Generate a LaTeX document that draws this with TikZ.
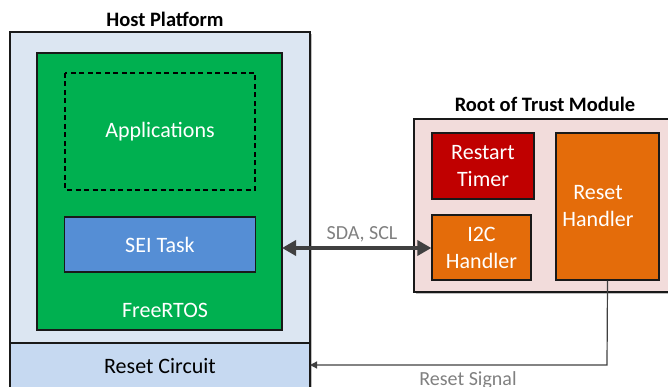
\documentclass[tikz,border=0pt]{standalone}
\usepackage{fontspec}
\setmainfont{Carlito}
\usetikzlibrary{arrows.meta,calc}
\definecolor{hostfill}{HTML}{DCE6F2}
\definecolor{resetfill}{HTML}{C6D9F1}
\definecolor{rtosgreen}{HTML}{00B050}
\definecolor{taskblue}{HTML}{558ED5}
\definecolor{rotfill}{HTML}{F2DCDB}
\definecolor{timerred}{HTML}{C00000}
\definecolor{handlerorange}{HTML}{E46C0A}
\definecolor{busgray}{HTML}{404040}
\definecolor{labelgray}{HTML}{808080}
\tikzset{
  box/.style={draw=black!90, line width=1.3pt, inner sep=0pt},
  shadowed/.style={preaction={fill=black!25, transform canvas={xshift=2pt,yshift=-2pt}}},
  bodyfont/.style={font=\fontsize{22}{27}\selectfont},
  whitetext/.style={text=white, bodyfont, align=center},
  title/.style={font=\bfseries\fontsize{20.5}{24}\selectfont},
  siglabel/.style={text=labelgray, font=\fontsize{20}{24}\selectfont},
}
\begin{document}
\begin{tikzpicture}[x=1pt,y=-1pt]
\useasboundingbox (0,0) rectangle (668,387);
\begin{scope}
\clip (0,0) rectangle (668,387);
% host platform
\draw[box, fill=hostfill, shadowed] (10,32) rectangle (310,400);
\draw[box, fill=resetfill] (10,343) rectangle (310,400);
\node[bodyfont] (reset) at (160,366) {Reset Circuit};
\node[title] (hosttitle) at (165,19) {Host Platform};
% FreeRTOS container
\draw[box, fill=rtosgreen] (37,53) rectangle (282,330);
\coordinate (rtosE) at (282,248);
\node[whitetext] (rtos) at (165,310) {FreeRTOS};
\draw[black, line width=1.2pt, dash pattern=on 5pt off 3.5pt] (65,73) rectangle (255,190);
\node[whitetext] (apps) at (160,132) {Applications};
\node[box, fill=taskblue, minimum width=191pt, minimum height=55pt, whitetext] (sei) at (160,244.5) {SEI Task};
% root of trust module
\draw[box, fill=rotfill, shadowed] (414,119) rectangle (690,292);
\node[title] (rottitle) at (545,104) {Root of Trust Module};
\node[box, fill=timerred, minimum width=102pt, minimum height=66pt, whitetext] (timer) at (483,166) {Restart\\Timer};
\node[box, fill=handlerorange, minimum width=99pt, minimum height=65pt, whitetext] (i2c) at (481.5,247.5) {I2C\\Handler};
\node[box, fill=handlerorange, minimum width=103pt, minimum height=147pt] (rh) at (607.5,206.5) {};
\node[whitetext] (rhtext) at (598,206) {Reset\\Handler};
% connectors
\draw[busgray, line width=4.5pt, {Triangle[length=14pt,width=15pt]}-{Triangle[length=14pt,width=15pt]}] (rtosE) -- (i2c.west |- rtosE);
\node[siglabel] (sda) at (362,234) {SDA, SCL};
\coordinate (bend) at (607,365);
\draw[busgray, line width=1.2pt, -{Triangle[length=7pt,width=7pt]}] (rh.south) -- (bend) -- (310,365);
\node[siglabel] (rsig) at (468,380) {Reset Signal};
\end{scope}
\end{tikzpicture}
\end{document}
